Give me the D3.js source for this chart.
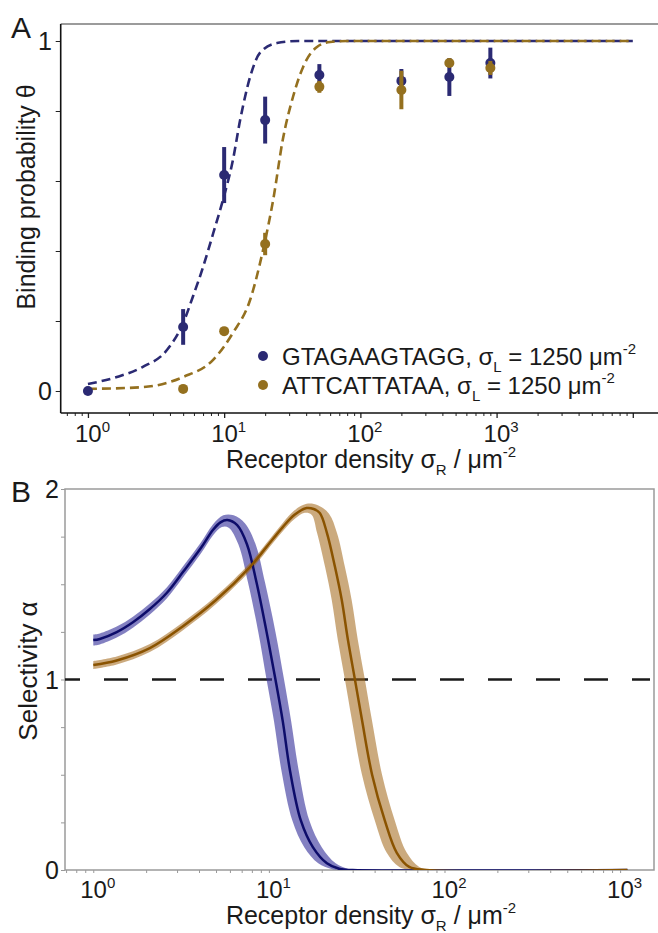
<!DOCTYPE html>
<html>
<head>
<meta charset="utf-8">
<script src="https://cdn.jsdelivr.net/npm/d3@7"></script>
<style>
  body { margin: 0; background: #fff; }
  text { font-family: "Liberation Sans", Arial, sans-serif; fill: #1a1a1a; }
</style>
</head>
<body>
<svg id="chart"></svg>
<script>
// ---- Panel A data: binding probability vs receptor density ----
const blueX = [1, 5, 10, 20, 50, 200, 450, 900];
const blueTheta = [0.0, 0.183, 0.617, 0.774, 0.903, 0.886, 0.897, 0.937];
const blueErr = [0, 0.051, 0.08, 0.067, 0.031, 0.034, 0.054, 0.044];

const orangeX = [5, 10, 20, 50, 200, 450, 900];
const orangeTheta = [0.006, 0.171, 0.42, 0.869, 0.86, 0.937, 0.923];
const orangeErr = [0, 0.012, 0.032, 0.017, 0.055, 0.011, 0.02];

// dashed model fits
const blueFitX = [1, 1.63, 2.53, 3.8, 5.0, 5.9, 7.0, 8.3, 9.8, 11.6, 13.1, 15.5, 18.3, 24.4, 35, 10000];
const blueFit = [0.02, 0.04, 0.069, 0.117, 0.194, 0.27, 0.354, 0.45, 0.546, 0.66, 0.774, 0.897, 0.966, 0.994, 1.0, 1.0];
const orangeFitX = [1, 2.53, 5.0, 8.3, 11.6, 15.5, 19.3, 22.9, 27, 32, 38, 48, 60, 80, 10000];
const orangeFit = [0.006, 0.011, 0.04, 0.089, 0.166, 0.26, 0.403, 0.546, 0.72, 0.84, 0.926, 0.983, 0.997, 1.0, 1.0];

// ---- Panel B data: selectivity vs receptor density ----
const blueMid = [[1,1.207],[1.09,1.213],[1.36,1.249],[1.69,1.302],[2.1,1.37],[2.62,1.454],[3.24,1.564],[4.1,1.69],[4.8,1.785],[5.3,1.825],[5.8,1.837],[6.6,1.81],[7.5,1.71],[8.5,1.51],[9.7,1.25],[10.9,1.0],[12.0,0.78],[13.2,0.52],[15.2,0.26],[17.8,0.12],[21.4,0.035],[25.4,0.005],[30,0],[1100,0]];
const blueHi = [[1,1.236],[1.09,1.242],[1.36,1.278],[1.69,1.331],[2.1,1.399],[2.62,1.483],[3.24,1.593],[4.1,1.719],[4.8,1.814],[5.5,1.862],[6.3,1.862],[7.3,1.82],[8.4,1.71],[9.5,1.51],[10.9,1.25],[12.2,1.0],[13.4,0.78],[14.8,0.52],[17.0,0.26],[20,0.12],[24,0.035],[28.5,0.005],[34,0],[1100,0]];
const blueLo = [[1,1.178],[1.09,1.184],[1.36,1.22],[1.69,1.273],[2.1,1.341],[2.62,1.425],[3.24,1.535],[4.1,1.661],[4.8,1.756],[5.4,1.80],[5.9,1.797],[6.7,1.71],[7.6,1.51],[8.7,1.25],[9.7,1.0],[10.7,0.78],[11.8,0.52],[13.6,0.26],[15.9,0.12],[19.1,0.035],[22.7,0.005],[26,0],[1100,0]];

const orangeMid = [[1,1.076],[1.36,1.10],[2.1,1.165],[3.2,1.276],[5.0,1.417],[7.8,1.59],[9.7,1.696],[12,1.80],[14,1.865],[16.4,1.90],[18,1.895],[19.5,1.874],[21.4,1.77],[23.8,1.59],[26,1.417],[28.2,1.207],[30.9,1.0],[33.9,0.787],[38.7,0.5],[45.7,0.26],[53.5,0.09],[63,0.016],[79,0],[1100,0]];
const orangeHi = [[1,1.097],[1.36,1.121],[2.1,1.186],[3.2,1.297],[5.0,1.438],[7.8,1.611],[9.7,1.717],[12,1.822],[14,1.888],[16.4,1.922],[19,1.915],[22,1.87],[24.4,1.77],[27.1,1.59],[29.6,1.417],[32.1,1.207],[35.2,1.0],[38.6,0.787],[44.1,0.5],[52.1,0.26],[61,0.09],[71.8,0.016],[88,0],[1100,0]];
const orangeLo = [[1,1.055],[1.36,1.079],[2.1,1.144],[3.2,1.255],[5.0,1.396],[7.8,1.569],[9.7,1.675],[12,1.778],[14,1.842],[16,1.875],[17.5,1.865],[18.8,1.77],[20.9,1.59],[22.8,1.417],[24.7,1.207],[27.1,1.0],[29.7,0.787],[33.9,0.5],[40.1,0.26],[46.9,0.09],[55.3,0.016],[70,0],[1100,0]];

// axis ticks
const decadeLabelsA = [0, 1, 2, 3];
const decadeLabelsB = [0, 1, 2, 3];
const yTicksA = [0, 0.2, 0.4, 0.6, 0.8, 1];
const yLabelsA = [0, 1];
const yTicksB = [0, 0.25, 0.5, 0.75, 1, 1.25, 1.5, 1.75, 2];
const yLabelsB = [0, 1, 2];

// colours
const navy = "#2b2a73";
const gold = "#94701f";

const svg = d3.select('#chart').attr('width', 658).attr('height', 933);

// log minor ticks (1..9 of each decade) inside a domain
const logTicks = (scale) => {
    const [lo, hi] = scale.domain();
    const out = [];
    for (let e = Math.floor(Math.log10(lo)); e <= Math.ceil(Math.log10(hi)); e++) {
        for (let m = 1; m < 10; m++) {
            const v = m * Math.pow(10, e);
            if (v >= lo && v <= hi) out.push(v);
        }
    }
    return out;
};
const isDecade = v => Math.abs(Math.log10(v) - Math.round(Math.log10(v))) < 1e-9;

// =========
// PANEL A
// =========
const xA = d3.scaleLog().domain([Math.pow(10, -0.2), Math.pow(10, 4.185)]).range([60.7, 658]);
const yA = d3.scaleLinear().domain([0, 1]).range([391, 41]);
const topA = 24, bottomA = 413;

// frame
svg.append('line').attr('x1', 60.7).attr('x2', 658).attr('y1', topA).attr('y2', topA)
    .attr('stroke', '#7a7a7a').attr('stroke-width', 1.6);

const minorA = logTicks(xA);
svg.append('g').attr('transform', 'translate(0,' + bottomA + ')')
    .call(d3.axisBottom(xA).tickValues(minorA.filter(v => !isDecade(v))).tickSize(3).tickSizeOuter(0).tickFormat(''))
    .call(g => g.select('.domain').remove())
    .call(g => g.selectAll('line').attr('stroke', '#222'));
svg.append('g').attr('transform', 'translate(0,' + bottomA + ')')
    .call(d3.axisBottom(xA).tickValues(minorA.filter(isDecade)).tickSize(5).tickSizeOuter(0).tickFormat(''))
    .call(g => g.select('.domain').remove())
    .call(g => g.selectAll('line').attr('stroke', '#222').attr('stroke-width', 1.3));
svg.append('g').attr('transform', 'translate(60.7,0)')
    .call(d3.axisLeft(yA).tickValues(yTicksA).tickSize(5).tickSizeOuter(0).tickFormat(''))
    .call(g => g.select('.domain').remove())
    .call(g => g.selectAll('line').attr('stroke', '#222'));
svg.append('line').attr('x1', 60.7).attr('x2', 60.7).attr('y1', topA).attr('y2', bottomA)
    .attr('stroke', '#111').attr('stroke-width', 1.6);
svg.append('line').attr('x1', 60.7).attr('x2', 658).attr('y1', bottomA).attr('y2', bottomA)
    .attr('stroke', '#111').attr('stroke-width', 1.6);

// tick labels
const decLabel = (g, x, y, e) => {
    const t = g.append('text').attr('x', x - 13).attr('y', y).attr('font-size', 24);
    t.append('tspan').text('10');
    t.append('tspan').attr('font-size', 15).attr('dy', -10).text(e);
};
decadeLabelsA.forEach(e => decLabel(svg, xA(Math.pow(10, e)), 442, e));
svg.selectAll('.ylabA').data(yLabelsA).enter().append('text')
    .attr('x', 52).attr('y', d => yA(d) + 9).attr('text-anchor', 'end').attr('font-size', 25).text(d => d);

// axis titles
const xTitle = (y) => {
    const t = svg.append('text').attr('x', 371).attr('y', y).attr('text-anchor', 'middle').attr('font-size', 25);
    t.append('tspan').text('Receptor density σ');
    t.append('tspan').attr('font-size', 15).attr('dy', 7).text('R');
    t.append('tspan').attr('dy', -7).text(' / μm');
    t.append('tspan').attr('font-size', 15).attr('dy', -11).text('-2');
};
xTitle(468);
svg.append('text').attr('transform', 'translate(35,197) rotate(-90)').attr('text-anchor', 'middle')
    .attr('font-size', 25).text('Binding probability θ');
svg.append('text').attr('x', 11).attr('y', 38).attr('font-size', 30).text('A');

// dashed fits
const fitLine = d3.line().x(d => xA(d[0])).y(d => yA(d[1])).curve(d3.curveMonotoneX);
svg.append('path').datum(blueFitX.map((x, i) => [x, blueFit[i]]))
    .attr('fill', 'none').attr('stroke', navy).attr('stroke-width', 2.6).attr('stroke-dasharray', '9,5')
    .attr('d', fitLine);
svg.append('path').datum(orangeFitX.map((x, i) => [x, orangeFit[i]]))
    .attr('fill', 'none').attr('stroke', gold).attr('stroke-width', 2.6).attr('stroke-dasharray', '9,5')
    .attr('d', fitLine);

// points with error bars
const drawPoints = (xs, ys, es, col) => {
    const data = xs.map((x, i) => ({x: x, y: ys[i], e: es[i]}));
    const g = svg.append('g');
    g.selectAll('line').data(data.filter(d => d.e > 0)).enter().append('line')
        .attr('x1', d => xA(d.x)).attr('x2', d => xA(d.x))
        .attr('y1', d => yA(d.y - d.e)).attr('y2', d => yA(d.y + d.e))
        .attr('stroke', col).attr('stroke-width', 4);
    g.selectAll('circle').data(data).enter().append('circle')
        .attr('cx', d => xA(d.x)).attr('cy', d => yA(d.y)).attr('r', 5).attr('fill', col);
};
drawPoints(blueX, blueTheta, blueErr, navy);
drawPoints(orangeX, orangeTheta, orangeErr, gold);

// legend
const legend = [
    {label: 'GTAGAAGTAGG, σ', col: navy, y: 356},
    {label: 'ATTCATTATAA, σ', col: gold, y: 385}
];
legend.forEach(l => {
    svg.append('circle').attr('cx', 263).attr('cy', l.y).attr('r', 5).attr('fill', l.col);
    const t = svg.append('text').attr('x', 282).attr('y', l.y + 9).attr('font-size', 24);
    t.append('tspan').text(l.label);
    t.append('tspan').attr('font-size', 15).attr('dy', 7).text('L');
    t.append('tspan').attr('dy', -7).text(' = 1250 μm');
    t.append('tspan').attr('font-size', 15).attr('dy', -11).text('-2');
});

// =========
// PANEL B
// =========
const xB = d3.scaleLog().domain([Math.pow(10, -0.161), Math.pow(10, 3.193)]).range([65, 654]);
const yB = d3.scaleLinear().domain([0, 2]).range([870, 489]);

svg.append('defs').append('clipPath').attr('id', 'clipB')
    .append('rect').attr('x', 65).attr('y', 489).attr('width', 589).attr('height', 381);

const minorB = logTicks(xB);
svg.append('g').attr('transform', 'translate(0,870)')
    .call(d3.axisBottom(xB).tickValues(minorB).tickSize(3).tickSizeOuter(0).tickFormat(''))
    .call(g => g.select('.domain').remove())
    .call(g => g.selectAll('line').attr('stroke', '#999'));
svg.append('g').attr('transform', 'translate(65,0)')
    .call(d3.axisLeft(yB).tickValues(yTicksB).tickSize(4).tickSizeOuter(0).tickFormat(''))
    .call(g => g.select('.domain').remove())
    .call(g => g.selectAll('line').attr('stroke', '#999'));
svg.append('rect').attr('x', 65).attr('y', 489).attr('width', 589).attr('height', 381)
    .attr('fill', 'none').attr('stroke', '#9a9a9a').attr('stroke-width', 1.5);

decadeLabelsB.forEach(e => decLabel(svg, xB(Math.pow(10, e)), 898, e));
svg.selectAll('.ylabB').data(yLabelsB).enter().append('text')
    .attr('x', 59).attr('y', d => yB(d) + 9).attr('text-anchor', 'end').attr('font-size', 25).text(d => d);
xTitle(924);
svg.append('text').attr('transform', 'translate(37,671) rotate(-90)').attr('text-anchor', 'middle')
    .attr('font-size', 26).text('Selectivity α');
svg.append('text').attr('x', 11).attr('y', 502).attr('font-size', 30).text('B');

// reference line alpha = 1
svg.append('line').attr('x1', 65).attr('x2', 650).attr('y1', yB(1)).attr('y2', yB(1))
    .attr('stroke', '#1a1a1a').attr('stroke-width', 2.5)
    .attr('stroke-dasharray', '24,24').attr('stroke-dashoffset', 9);

// uncertainty bands + centre lines
const bLine = d3.line().x(d => xB(d[0])).y(d => yB(d[1])).curve(d3.curveCatmullRom.alpha(0.5));
const tube = (hi, lo) => bLine(hi) + 'L' + bLine(lo.slice().reverse()).slice(1) + 'Z';
const plotB = svg.append('g').attr('clip-path', 'url(#clipB)');

plotB.append('path').attr('d', tube(blueHi, blueLo)).attr('fill', 'rgba(55,50,155,0.62)');
plotB.append('path').attr('d', tube(orangeHi, orangeLo)).attr('fill', 'rgba(160,100,20,0.55)');
plotB.append('path').datum(blueMid).attr('fill', 'none').attr('stroke', '#0d0c6a').attr('stroke-width', 2.5).attr('d', bLine);
plotB.append('path').datum(orangeMid).attr('fill', 'none').attr('stroke', '#8a5300').attr('stroke-width', 2.5).attr('d', bLine);
</script>
</body>
</html>
